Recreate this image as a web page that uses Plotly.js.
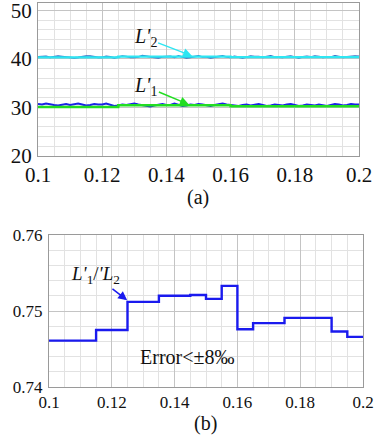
<!DOCTYPE html>
<html>
<head>
<meta charset="utf-8">
<script src="https://cdn.plot.ly/plotly-3.0.1.min.js"></script>
<style>html,body{margin:0;padding:0;background:#fff}#chart{width:375px;height:443px}</style>
</head>
<body>
<div id="chart"></div>
<script>
// ---- data ----
const tStart = 0.1, tStep = 0.00125;
const L2_measured = [40.4,40.5,40.5,40.3,40.4,40.6,40.5,40.4,40.4,40.2,
40.3,40.5,40.6,40.6,40.4,40.3,40.3,40.5,40.4,40.2,
40.4,40.6,40.5,40.3,40.3,40.4,40.7,40.5,40.4,40.3,
40.2,40.4,40.5,40.5,40.3,40.6,40.4,40.2,40.3,40.5,
40.6,40.4,40.4,40.2,40.3,40.5,40.6,40.4,40.3,40.5,
40.4,40.2,40.4,40.6,40.5,40.5,40.3,40.4,40.6,40.4,
40.3,40.3,40.5,40.6,40.4,40.2,40.4,40.5,40.4,40.6,
40.5,40.3,40.4,40.4,40.6,40.5,40.3,40.4,40.5,40.6,40.5];
const L1_measured = [30.7,30.6,30.8,30.6,30.5,30.4,30.6,30.7,30.5,30.6,
30.8,30.6,30.4,30.5,30.7,30.6,30.6,30.8,30.5,30.3,
30.4,30.6,30.5,30.7,30.8,30.6,30.5,30.3,30.2,30.4,
30.6,30.7,30.5,30.5,30.8,30.6,30.3,30.4,30.6,30.5,
30.7,30.6,30.4,30.3,30.5,30.6,30.8,30.6,30.5,30.4,
30.3,30.5,30.6,30.4,30.5,30.7,30.5,30.3,30.4,30.6,
30.5,30.4,30.6,30.7,30.5,30.3,30.4,30.6,30.5,30.4,
30.6,30.5,30.3,30.5,30.7,30.6,30.4,30.5,30.7,30.6,30.6];
const estStepX = [0.1, 0.125, 0.16, 0.2];
const L2_est = [40.3, 40.45, 40.35, 40.35];
const L1_est = [30.1, 30.45, 30.25, 30.25];
const ratioX = [0.1,0.115,0.125,0.135,0.145,0.15,0.155,0.16,0.165,0.175,0.19,0.195,0.2];
const ratioY = [0.7461,0.7475,0.7512,0.7520,0.7521,0.7516,0.7533,0.7476,0.7484,0.7491,0.7473,0.7466,0.7466];
const xTicks = [0.1,0.12,0.14,0.16,0.18,0.2];
const xTickText = ['0.1','0.12','0.14','0.16','0.18','0.2'];
const yTicksA = [20,30,40,50];
const yTicksB = [0.74,0.75,0.76];
const yTickTextB = ['0.74','0.75','0.76'];

const tArr = L2_measured.map((_, i) => tStart + i * tStep);

const serif = 'Liberation Serif';
const traces = [
  {x: tArr, y: L2_measured, xaxis:'x', yaxis:'y', mode:'lines', line:{color:'#2f6cc4', width:1.6}, hoverinfo:'skip'},
  {x: tArr, y: L1_measured, xaxis:'x', yaxis:'y', mode:'lines', line:{color:'#1a22e6', width:2}, hoverinfo:'skip'},
  {x: estStepX, y: L2_est, xaxis:'x', yaxis:'y', mode:'lines', line:{color:'#2ee6f2', width:2.4, shape:'hv'}, hoverinfo:'skip'},
  {x: estStepX, y: L1_est, xaxis:'x', yaxis:'y', mode:'lines', line:{color:'#22dd22', width:2.4, shape:'hv'}, hoverinfo:'skip'},
  {x: ratioX, y: ratioY, xaxis:'x2', yaxis:'y2', mode:'lines', line:{color:'#1a1aee', width:2.4, shape:'hv'}, hoverinfo:'skip'}
];

function xax(domain, anchor, size) {
  return {domain, anchor, range:[0.1,0.2], tickvals:xTicks, ticktext:xTickText,
    tickfont:{family:serif, size, color:'#111'}, ticks:'', showline:true, mirror:true,
    linecolor:'#9a9a9a', linewidth:1, showgrid:true, gridcolor:'#c4c4c4', gridwidth:1, zeroline:false,
    minor:{dtick:0.005, tick0:0.1, showgrid:true, gridcolor:'#e2e2e2', gridwidth:1, ticks:''}};
}

const layout = {
  width:375, height:443, margin:{l:0,r:0,t:0,b:0}, paper_bgcolor:'#fff', plot_bgcolor:'#fff',
  showlegend:false, font:{family:serif, color:'#111'},
  xaxis: xax([38/375, 359/375], 'y', 21),
  yaxis: {domain:[1-156/443, 1-3/443], anchor:'x', range:[20,51.5], tickvals:yTicksA,
    tickfont:{family:serif, size:21, color:'#111'}, ticks:'', ticklabelstandoff:1, ticklabeloverflow:'allow',
    showline:true, mirror:true,
    linecolor:'#9a9a9a', showgrid:true, gridcolor:'#c4c4c4', zeroline:false,
    minor:{dtick:2, tick0:20, showgrid:true, gridcolor:'#e2e2e2', ticks:''}},
  xaxis2: xax([49/375, 363/375], 'y2', 17),
  yaxis2: {domain:[1-387/443, 1-235/443], anchor:'x2', range:[0.74,0.76], tickvals:yTicksB, ticktext:yTickTextB,
    tickfont:{family:serif, size:17, color:'#111'}, ticks:'', ticklabelstandoff:2, showline:true, mirror:true,
    linecolor:'#9a9a9a', showgrid:true, gridcolor:'#c4c4c4', zeroline:false,
    minor:{dtick:0.002, tick0:0.74, showgrid:true, gridcolor:'#e2e2e2', ticks:''}},
  annotations: [
    {xref:'x', yref:'y', x:0.148, y:40.6, text:"<i>L'</i><sub>2</sub>", showarrow:true,
     ax:-47, ay:-18, arrowcolor:'#2ee6f2', arrowhead:2, arrowsize:1.2, arrowwidth:1.5,
     font:{family:serif, size:20, color:'#111'}},
    {xref:'x', yref:'y', x:0.147, y:30.6, text:"<i>L'</i><sub>1</sub>", showarrow:true,
     ax:-43, ay:-18, arrowcolor:'#22dd22', arrowhead:2, arrowsize:1.2, arrowwidth:1.5,
     font:{family:serif, size:20, color:'#111'}},
    {xref:'x2', yref:'y2', x:0.1249, y:0.7514, text:"<i>L'</i><sub>1</sub>/<i>'L</i><sub>2</sub>", showarrow:true,
     ax:-32, ay:-25, arrowcolor:'#1a1aee', arrowhead:2, arrowsize:1.2, arrowwidth:1.5,
     font:{family:serif, size:19, color:'#111'}},
    {xref:'x2', yref:'y2', x:0.1441, y:0.7439, xanchor:'center', yanchor:'middle', text:'Error&lt;±8‰', showarrow:false,
     font:{family:serif, size:20, color:'#111'}},
    {xref:'paper', yref:'paper', x:198/375, y:1-197/443, xanchor:'center', yanchor:'middle', text:'(a)', showarrow:false,
     font:{family:serif, size:20, color:'#111'}},
    {xref:'paper', yref:'paper', x:205/375, y:1-423/443, xanchor:'center', yanchor:'middle', text:'(b)', showarrow:false,
     font:{family:serif, size:20, color:'#111'}}
  ]
};

Plotly.newPlot('chart', traces, layout, {displayModeBar:false, staticPlot:true});
</script>
</body>
</html>
